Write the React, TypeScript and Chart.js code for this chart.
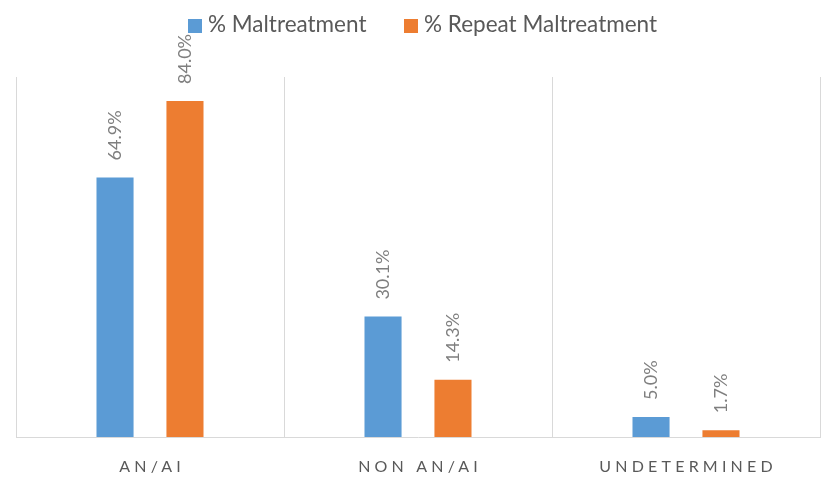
import React, { useEffect, useRef } from "react";
import { Chart, registerables } from "chart.js";

Chart.register(...registerables);

const categories = ["AN/AI", "NON AN/AI", "UNDETERMINED"];
const maltreatment = [64.9, 30.1, 5.0];
const repeatMaltreatment = [84.0, 14.3, 1.7];
const seriesNames = ["% Maltreatment", "% Repeat Maltreatment"];
const seriesColors = ["#5b9bd5", "#ed7d31"];
const yMax = 90;

const FONT = "Lato, 'Open Sans', sans-serif";

const labelsPlugin = {
  id: "customLabels",
  afterDatasetsDraw(chart: any) {
    const ctx = chart.ctx;
    // data labels
    chart.data.datasets.forEach((ds: any, di: number) => {
      const meta = chart.getDatasetMeta(di);
      meta.data.forEach((bar: any, i: number) => {
        const v = ds.data[i];
        ctx.save();
        ctx.translate(bar.x, bar.y - 17);
        ctx.rotate(-Math.PI / 2);
        ctx.font = `18px ${FONT}`;
        ctx.fillStyle = "#7f7f7f";
        ctx.textAlign = "left";
        ctx.textBaseline = "middle";
        ctx.fillText(v.toFixed(1) + "%", 0, 0);
        ctx.restore();
      });
    });
    // x labels with letter spacing
    const xs = chart.scales.x;
    ctx.save();
    ctx.font = `16px ${FONT}`;
    ctx.fillStyle = "#595959";
    ctx.textAlign = "center";
    ctx.textBaseline = "alphabetic";
    (ctx as any).letterSpacing = "4.2px";
    categories.forEach((c, i) => {
      ctx.fillText(c, xs.getPixelForValue(i) + 2.1, 472);
    });
    ctx.restore();
    // legend
    ctx.save();
    ctx.font = `22.5px ${FONT}`;
    ctx.textBaseline = "middle";
    ctx.textAlign = "left";
    const boxStarts = [188, 404];
    seriesNames.forEach((n, i) => {
      ctx.fillStyle = seriesColors[i];
      ctx.fillRect(boxStarts[i], 19, 14, 14);
      ctx.fillStyle = "#595959";
      ctx.fillText(n, boxStarts[i] + 20, 25);
    });
    ctx.restore();
  },
};

export default function App() {
  const ref = useRef<HTMLCanvasElement | null>(null);
  useEffect(() => {
    document.body.style.margin = "0";
    const chart = new Chart(ref.current as HTMLCanvasElement, {
      type: "bar",
      data: {
        labels: categories,
        datasets: [
          {
            label: seriesNames[0],
            data: maltreatment,
            backgroundColor: seriesColors[0],
            categoryPercentage: 0.522,
            barPercentage: 0.53,
          },
          {
            label: seriesNames[1],
            data: repeatMaltreatment,
            backgroundColor: seriesColors[1],
            categoryPercentage: 0.522,
            barPercentage: 0.53,
          },
        ],
      },
      options: {
        animation: false,
        responsive: false,
        devicePixelRatio: 1,
        layout: { padding: { top: 77, bottom: 42, left: 16, right: 1 } },
        plugins: {
          legend: { display: false },
          tooltip: { enabled: false },
        },
        scales: {
          x: {
            grid: {
              offset: true,
              color: "#d9d9d9",
              drawTicks: false,
            },
            border: { color: "#d9d9d9", width: 1 },
            ticks: { display: false },
          },
          y: {
            display: false,
            min: 0,
            max: yMax,
          },
        },
      },
      plugins: [labelsPlugin],
    });
    return () => chart.destroy();
  }, []);
  return (
    <div style={{ position: "absolute", left: 0, top: 0, width: 821, height: 479, background: "#fff" }}>
      <canvas ref={ref} width={821} height={479} style={{ display: "block" }} />
    </div>
  );
}
